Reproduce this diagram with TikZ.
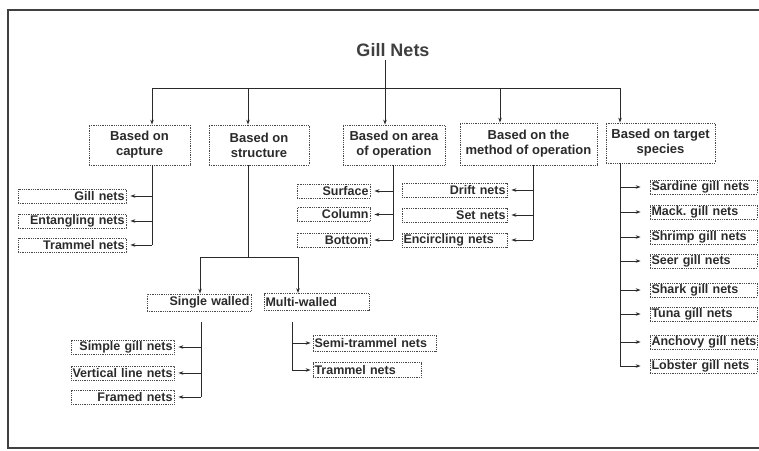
\documentclass[tikz,border=0pt]{standalone}
\usepackage{fontspec}
\setmainfont{Liberation Sans}
\usetikzlibrary{arrows.meta}
\definecolor{ink}{HTML}{2a2a2a}
\definecolor{boxline}{HTML}{484848}
\definecolor{frame}{HTML}{404040}
\begin{document}
\begin{tikzpicture}[x=1pt,y=-1pt,
  line/.style={draw=ink, line width=1pt},
  arr/.style={line, -{Stealth[length=5pt,width=3.5pt]}},
  cat/.style={draw=boxline, densely dotted, line width=0.8pt, text=ink,
    font=\bfseries\fontsize{13}{15}\selectfont, align=center, inner sep=0pt},
  leaf/.style={draw=boxline, densely dotted, line width=0.8pt, text=ink,
    font=\bfseries\fontsize{12.5}{13}\selectfont, inner xsep=1.5pt, inner ysep=0pt,
    minimum height=14pt},
  leafR/.style={leaf, align=right},
  leafL/.style={leaf, align=left},
]
\useasboundingbox (0,0) rectangle (759,450);
% frame
\draw[draw=frame, line width=2.5pt] (780,10) -- (8,10) -- (8,448) -- (780,448);

% title
\node[font=\bfseries\fontsize{18}{18}\selectfont, text=ink!90] (title) at (393,50) {Gill Nets};

% category boxes
\node[cat, minimum width=101pt, minimum height=40pt] (cap)  at (139.5,145) {Based on\\capture};
\node[cat, minimum width=100pt, minimum height=40pt] (str)  at (259,145)   {Based on\\structure};
\node[cat, minimum width=102pt, minimum height=40pt] (area) at (394,145)   {Based on area\\of operation};
\node[cat, minimum width=137pt, minimum height=42pt] (meth) at (528.5,144) {Based on the\\method of operation};
\node[cat, minimum width=109pt, minimum height=40pt] (spec) at (660.5,143) {Based on target\\species};

% bus coordinates
\coordinate (j)  at (385,88);
\coordinate (b1) at (152,88);
\coordinate (b2) at (248,88);
\coordinate (b4) at (500,88);
\coordinate (b5) at (620,88);
\draw[line] (title.south -| j) -- (j);
\draw[line] (b1) -- (b5);
\draw[arr] (b1) -- (b1 |- cap.north);
\draw[arr] (b2) -- (b2 |- str.north);
\draw[arr] (j)  -- (j |- area.north);
\draw[arr] (b4) -- (b4 |- meth.north);
\draw[arr] (b5) -- (b5 |- spec.north);

% capture children
\node[leafR, text width=105pt] (c1) at (72,196) {Gill nets};
\node[leafR, text width=105pt] (c2) at (72,221) {\mbox{Entangling nets}};
\node[leafR, text width=105pt] (c3) at (72,245) {Trammel nets};
\coordinate (cx) at (152,0);
\draw[line] (cx |- cap.south) -- (cx |- c3);
\foreach \n in {c1,c2,c3}{\draw[arr] (cx |- \n) -- ([xshift=4pt]\n.east);}

% structure
\node[leafR, text width=101pt, minimum height=17pt] (sw) at (199,302.5) {Single walled};
\node[leafL, text width=102pt, minimum height=17pt] (mw) at (316.5,302) {Multi-walled};
\coordinate (sj)  at (248,257);
\coordinate (sj1) at (200,257);
\coordinate (sj2) at (298,257);
\draw[line] (sj |- str.south) -- (sj);
\draw[line] (sj1) -- (sj2);
\draw[arr] (sj1) -- (sj1 |- sw.north);
\draw[arr] (sj2) -- (sj2 |- mw.north);

% single walled children
\node[leafR, text width=100pt] (s1) at (122.5,347) {Simple gill nets};
\node[leafL, text width=100pt] (s2) at (122.5,373) {\mbox{Vertical line nets}};
\node[leafR, text width=100pt] (s3) at (122.5,397) {Framed nets};
\coordinate (sx) at (201,322);
\draw[line] (sx) -- (sx |- s3);
\foreach \n in {s1,s2,s3}{\draw[arr] (sx |- \n) -- ([xshift=4pt]\n.east);}

% multi walled children
\node[leafL, text width=120pt, minimum height=16pt] (m1) at (374.5,343) {\mbox{Semi-trammel nets}};
\node[leafL, text width=105pt, minimum height=15pt] (m2) at (367,370) {Trammel nets};
\coordinate (mx) at (292,322);
\draw[line] (mx) -- (mx |- m2);
\foreach \n in {m1,m2}{\draw[arr] (mx |- \n) -- ([xshift=-2pt]\n.west);}

% area children
\node[leafR, text width=70pt] (a1) at (333.5,191) {Surface};
\node[leafR, text width=70pt] (a2) at (333.5,214.5) {Column};
\node[leafR, text width=70pt] (a3) at (333.5,240) {Bottom};
\coordinate (ax) at (393,0);
\draw[line] (ax |- area.south) -- (ax |- a3);
\foreach \n in {a1,a2,a3}{\draw[arr] (ax |- \n) -- ([xshift=4pt]\n.east);}

% method children
\node[leafR, text width=102pt] (d1) at (454.5,190) {Drift nets};
\node[leafR, text width=102pt] (d2) at (454.5,215) {Set nets};
\node[leafL, text width=102pt] (d3) at (454.5,240) {\mbox{Encircling nets}};
\coordinate (dx) at (533,0);
\draw[line] (dx |- meth.south) -- (dx |- d3);
\foreach \n in {d1,d2,d3}{\draw[arr] (dx |- \n) -- ([xshift=4pt]\n.east);}

% species children
\node[leafL, text width=104pt] (p1) at (703.5,187) {\mbox{Sardine gill nets}};
\node[leafL, text width=104pt] (p2) at (703.5,212) {Mack.\ gill nets};
\node[leafL, text width=104pt] (p3) at (703.5,237) {\mbox{Shrimp gill nets}};
\node[leafL, text width=104pt] (p4) at (703.5,261) {Seer gill nets};
\node[leafL, text width=104pt] (p5) at (703.5,290) {Shark gill nets};
\node[leafL, text width=104pt] (p6) at (703.5,314) {Tuna gill nets};
\node[leafL, text width=104pt] (p7) at (703.5,342) {\mbox{Anchovy gill nets}};
\node[leafL, text width=104pt] (p8) at (703.5,366) {\mbox{Lobster gill nets}};
\coordinate (px) at (620,0);
\draw[line] (px |- spec.south) -- (px |- p8);
\foreach \n in {p1,p2,p3,p4,p5,p6,p7,p8}{\draw[arr] (px |- \n) -- ([xshift=-9pt]\n.west);}
\end{tikzpicture}
\end{document}
